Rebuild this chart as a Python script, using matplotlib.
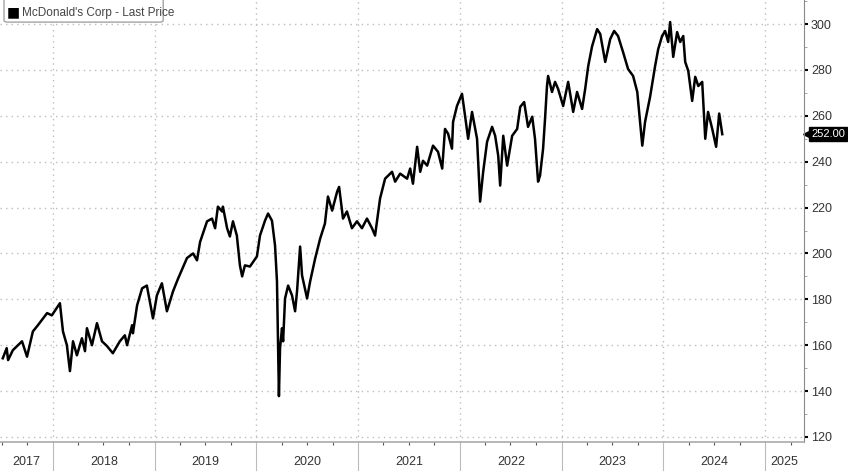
import matplotlib
matplotlib.use('Agg')
import matplotlib.pyplot as plt
import matplotlib.transforms as mtransforms
from matplotlib.patches import FancyBboxPatch
import pandas as pd

# McDonald's Corp - last price
dates = [
    '2017-07-05', '2017-07-19', '2017-07-24', '2017-08-10', '2017-09-12', '2017-09-30',
    '2017-10-21', '2017-11-08', '2017-12-11', '2017-12-28', '2018-01-26', '2018-02-06',
    '2018-02-20', '2018-03-03', '2018-03-14', '2018-03-28', '2018-04-15', '2018-04-26',
    '2018-05-03', '2018-05-21', '2018-06-08', '2018-06-26', '2018-07-14', '2018-08-04',
    '2018-08-29', '2018-09-16', '2018-09-24', '2018-10-12', '2018-10-15', '2018-10-30',
    '2018-11-17', '2018-12-04', '2018-12-26', '2019-01-09', '2019-01-27', '2019-02-14',
    '2019-03-08', '2019-03-26', '2019-04-27', '2019-05-19', '2019-06-02', '2019-06-13',
    '2019-07-08', '2019-07-26', '2019-08-06', '2019-08-16', '2019-08-31', '2019-09-03',
    '2019-09-18', '2019-09-28', '2019-10-09', '2019-10-23', '2019-11-03', '2019-11-11',
    '2019-11-21', '2019-12-09', '2020-01-03', '2020-01-14', '2020-02-01', '2020-02-12',
    '2020-02-26', '2020-03-08', '2020-03-15', '2020-03-19', '2020-03-22', '2020-03-26',
    '2020-04-02', '2020-04-06', '2020-04-13', '2020-04-24', '2020-05-08', '2020-05-19',
    '2020-05-26', '2020-06-06', '2020-06-13', '2020-07-01', '2020-07-12', '2020-07-30',
    '2020-08-17', '2020-09-03', '2020-09-14', '2020-09-29', '2020-10-17', '2020-10-24',
    '2020-11-07', '2020-11-21', '2020-12-09', '2020-12-27', '2021-01-14', '2021-02-01',
    '2021-02-19', '2021-03-02', '2021-03-20', '2021-04-07', '2021-05-02', '2021-05-13',
    '2021-05-31', '2021-06-25', '2021-07-06', '2021-07-16', '2021-07-31', '2021-08-11',
    '2021-08-21', '2021-09-05', '2021-09-26', '2021-10-14', '2021-10-29', '2021-11-08',
    '2021-11-19', '2021-12-03', '2021-12-07', '2021-12-21', '2022-01-08', '2022-01-19',
    '2022-01-30', '2022-02-13', '2022-03-03', '2022-03-14', '2022-03-25', '2022-04-08',
    '2022-04-26', '2022-05-07', '2022-05-18', '2022-05-25', '2022-06-05', '2022-06-19',
    '2022-07-07', '2022-07-25', '2022-08-05', '2022-08-19', '2022-09-02', '2022-09-17',
    '2022-09-27', '2022-10-08', '2022-10-15', '2022-10-26', '2022-11-02', '2022-11-09',
    '2022-11-13', '2022-11-27', '2022-12-08', '2022-12-19', '2023-01-06', '2023-01-24',
    '2023-02-11', '2023-02-25', '2023-03-15', '2023-03-26', '2023-04-06', '2023-04-20',
    '2023-05-08', '2023-05-19', '2023-06-06', '2023-06-24', '2023-07-08', '2023-07-22',
    '2023-08-09', '2023-08-27', '2023-09-14', '2023-09-29', '2023-10-17', '2023-10-27',
    '2023-11-14', '2023-12-02', '2023-12-13', '2023-12-27', '2024-01-07', '2024-01-18',
    '2024-01-25', '2024-02-05', '2024-02-19', '2024-03-01', '2024-03-12', '2024-03-19',
    '2024-03-30', '2024-04-13', '2024-04-24', '2024-05-05', '2024-05-19', '2024-05-30',
    '2024-06-09', '2024-06-24', '2024-07-08', '2024-07-19', '2024-07-30',
]
prices = [
    154.3, 158.7, 153.5, 157.8, 161.7, 155.0,
    166.0, 168.7, 174.0, 173.0, 178.3, 166.0,
    160.0, 148.7, 161.7, 155.6, 163.0, 157.4,
    167.4, 160.0, 169.6, 161.7, 159.6, 156.5,
    161.7, 164.3, 160.0, 168.7, 165.2, 177.4,
    184.8, 186.0, 171.7, 181.7, 187.0, 174.8,
    183.5, 189.0, 198.0, 200.0, 197.0, 205.0,
    214.0, 215.2, 211.0, 220.4, 218.3, 220.4,
    211.0, 207.4, 214.0, 207.8, 194.8, 190.0,
    194.8, 194.3, 198.7, 207.8, 214.3, 217.4,
    214.3, 203.5, 187.8, 158.7, 137.8, 158.7,
    167.4, 161.7, 180.4, 186.0, 181.7, 174.8,
    183.5, 203.0, 190.4, 180.4, 187.8, 197.8,
    206.5, 213.0, 224.8, 218.7, 227.0, 229.0,
    215.2, 218.3, 211.0, 214.0, 211.0, 215.2,
    211.0, 207.8, 224.0, 232.6, 235.6, 231.3,
    234.8, 232.6, 237.0, 230.4, 246.5, 235.6,
    240.4, 238.3, 247.0, 244.3, 237.0, 254.3,
    252.2, 245.7, 257.4, 264.3, 269.6, 260.0,
    250.0, 261.7, 250.0, 222.6, 235.6, 248.7,
    255.2, 251.3, 242.6, 229.6, 251.3, 238.3,
    251.3, 254.3, 263.9, 266.0, 255.2, 259.6,
    250.0, 231.3, 233.9, 245.7, 258.7, 273.0,
    277.4, 270.4, 274.8, 271.7, 264.3, 274.8,
    261.7, 270.4, 263.0, 271.7, 281.7, 290.4,
    297.8, 295.7, 283.5, 293.5, 297.0, 294.8,
    287.8, 280.4, 277.4, 270.4, 247.0, 257.4,
    268.3, 281.7, 289.0, 294.8, 297.0, 292.2,
    300.9, 285.7, 296.5, 292.2, 294.8, 283.5,
    279.6, 266.5, 277.0, 273.0, 274.8, 250.0,
    261.7, 254.3, 246.5, 261.0, 252.0,
]
last_price = 252.00
series_name = "McDonald's Corp - Last Price"
years = list(range(2017, 2026))
y_ticks = list(range(120, 301, 20))

x = pd.to_datetime(dates)
plt.rcParams['font.family'] = ['Liberation Sans Narrow', 'Liberation Sans', 'DejaVu Sans']

fig = plt.figure(figsize=(8.48, 4.71), dpi=100)
ax = fig.add_axes([0.0, 0.0616, 0.948, 0.9384])

ax.plot(x, prices, color='black', lw=1.8, solid_joinstyle='round')

xmin = pd.Timestamp('2017-06-25')
xmax = pd.Timestamp('2025-05-19')
ax.set_xlim(xmin, xmax)
ax.set_ylim(117.8, 310.5)

# right-hand price axis
ax.yaxis.tick_right()
ax.set_yticks(y_ticks)
ax.set_yticks(range(120, 311, 10), minor=True)
ax.tick_params(axis='y', which='major', direction='out', length=3, width=1.5,
               color='black', labelsize=9, labelcolor='#333333', pad=2)
ax.tick_params(axis='y', which='minor', direction='out', length=2, width=0.6, color='#999999')

# x axis: long grey separators at year starts, small quarter ticks
year_starts = [pd.Timestamp(f'{y}-01-01') for y in years[1:]]
ax.set_xticks(year_starts)
ax.set_xticklabels([])
quarters = pd.date_range('2017-07-01', '2025-04-01', freq='QS')
ax.set_xticks(quarters, minor=True)
ax.tick_params(axis='x', which='major', direction='out', length=22, width=0.8, color='#bbbbbb')
ax.tick_params(axis='x', which='minor', direction='out', length=2.5, width=0.8, color='#555555')

trans = mtransforms.blended_transform_factory(ax.transData, ax.transAxes)
for y in years:
    a = max(pd.Timestamp(f'{y}-01-01'), xmin)
    b = min(pd.Timestamp(f'{y + 1}-01-01'), xmax)
    mid = a + (b - a) / 2
    ax.text(mid, -0.045, str(y), transform=trans, ha='center', va='center',
            fontsize=9, color='#333333')

# dotted grid
ax.grid(True, which='major', linestyle=(0, (1, 3)), color='#bdbdbd', lw=1.0)

for s in ['top', 'left']:
    ax.spines[s].set_visible(False)
ax.spines['right'].set_color('#888888')
ax.spines['bottom'].set_color('#aaaaaa')
ax.spines['bottom'].set_linewidth(1.2)

# last price marker: black tag with a small left pointer
ytrans = mtransforms.blended_transform_factory(ax.transAxes, ax.transData)
ax.plot([1.004], [last_price], marker='<', ms=6, color='black', transform=ytrans, clip_on=False)
ax.text(1.009, last_price, f'{last_price:.2f}', transform=ytrans, ha='left', va='center',
        fontsize=8, color='white', clip_on=False,
        bbox=dict(boxstyle='square,pad=0.18', fc='black', ec='black'))

# legend box
legend_box = FancyBboxPatch((0.005, 0.95), 0.198, 0.06, boxstyle='round,pad=0,rounding_size=0.004',
                            transform=ax.transAxes, fill=True, fc='white', ec='#999999',
                            lw=0.9, clip_on=False, zorder=3)
ax.add_patch(legend_box)
ax.text(0.009, 0.988, '\u25A0', transform=ax.transAxes, ha='left', va='top',
        fontsize=10, color='black', family='DejaVu Sans', zorder=4)
ax.text(0.027, 0.984, series_name, transform=ax.transAxes, ha='left', va='top',
        fontsize=8.5, color='#444444', zorder=4)

fig.savefig('out.png', dpi=100)
